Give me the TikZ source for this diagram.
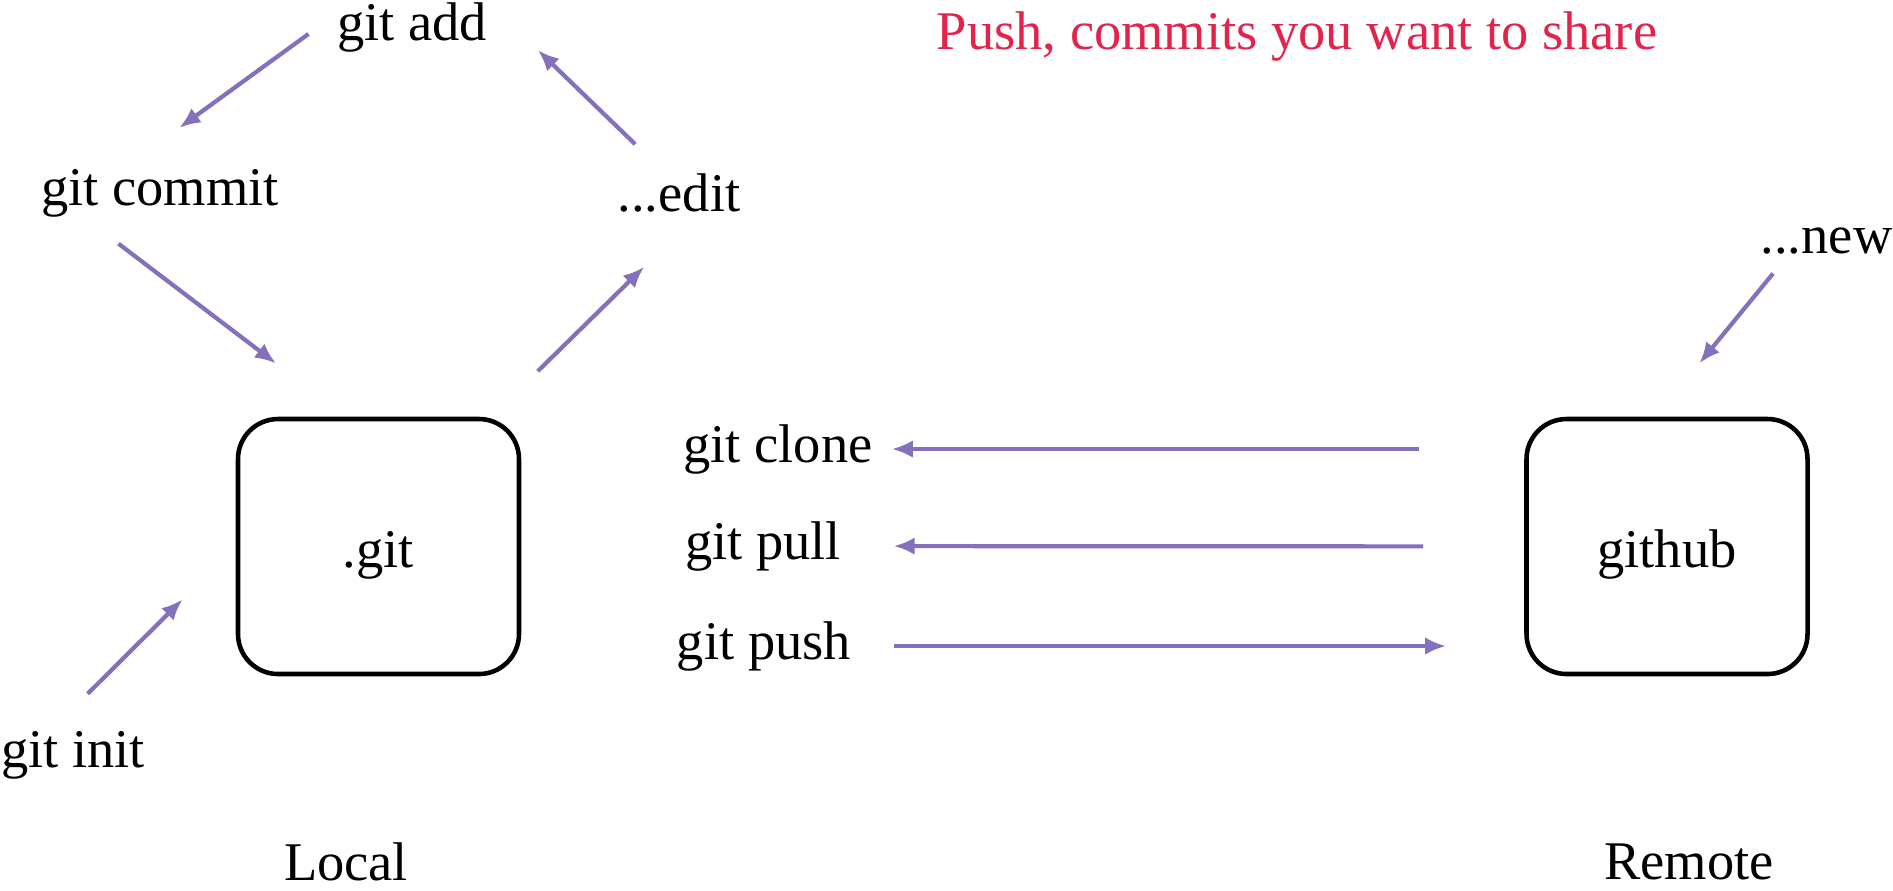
\documentclass[tikz,border=0pt]{standalone}
\usepackage{fontspec}
\setmainfont{Liberation Serif}
\usetikzlibrary{arrows.meta}
\definecolor{flowpurple}{RGB}{133,112,187}
\definecolor{pushred}{RGB}{226,35,76}

\begin{document}
\begin{tikzpicture}[x=0.1mm, y=-0.1mm, >={Latex[length=6pt,width=5pt]}]
        \tikzstyle{txt}=[inner sep=0pt, font=\fontsize{15.5}{18}\selectfont]
        \tikzstyle{repo}=[draw, line width=1.3pt, rounded corners=4mm, minimum width=28.1mm, minimum height=25.5mm, text height=15.2pt, text depth=3.4pt, font=\fontsize{15.5}{18}\selectfont]
        \tikzstyle{flow}=[->, draw=flowpurple, line width=1.2pt]

        \useasboundingbox (0,0) rectangle (1893,890);

        \node[txt](add) at (412,27){git add};
        \node[txt](commit) at (160,193){git commit};
        \node[txt](edit) at (679,193){...edit};
        \node[txt](init) at (73,755){git init};
        \node[repo](gitdir) at (378.5,546.5){.git};
        \node[txt](local) at (346,862){Local};

        \node[txt, text=pushred](title) at (1297,36){Push, commits you want to share};
        \node[txt](clone) at (778,449){git clone};
        \node[txt](pull) at (763,546){git pull};
        \node[txt](push) at (764,646){git push};

        \node[txt, anchor=east](new) at (1893,241){...new};
        \node[repo](github) at (1667,546.5){github};
        \node[txt](remote) at (1689,862){Remote};

        \draw[flow, shorten <=3.45mm, shorten >=6.9mm] (add.170) -- (commit.146);
        \draw[flow, shorten <=4.15mm, shorten >=7mm] (edit.125) -- (add.north east);
        \draw[flow, shorten <=4.3mm, shorten >=8.8mm] (commit.198) -- (gitdir.104);
        \draw[flow, shorten <=6.5mm, shorten >=7.7mm] (gitdir.49) -- (edit.-45);
        \draw[flow, shorten <=5.2mm, shorten >=7.5mm] (init.132) -- (gitdir.west);
        \draw[flow, shorten <=2.4mm, shorten >=6.9mm] (new.200) -- (github.95);

        \draw[flow, shorten <=10.5mm, shorten >=1.85mm] (github.west |- clone) -- (clone);
        \draw[flow, shorten <=10.1mm, shorten >=5.2mm] (github) -- (pull);
        \draw[flow, shorten <=4.2mm, shorten >=7.8mm] (push) -- (github.west |- push);

        \end{tikzpicture}
\end{document}
